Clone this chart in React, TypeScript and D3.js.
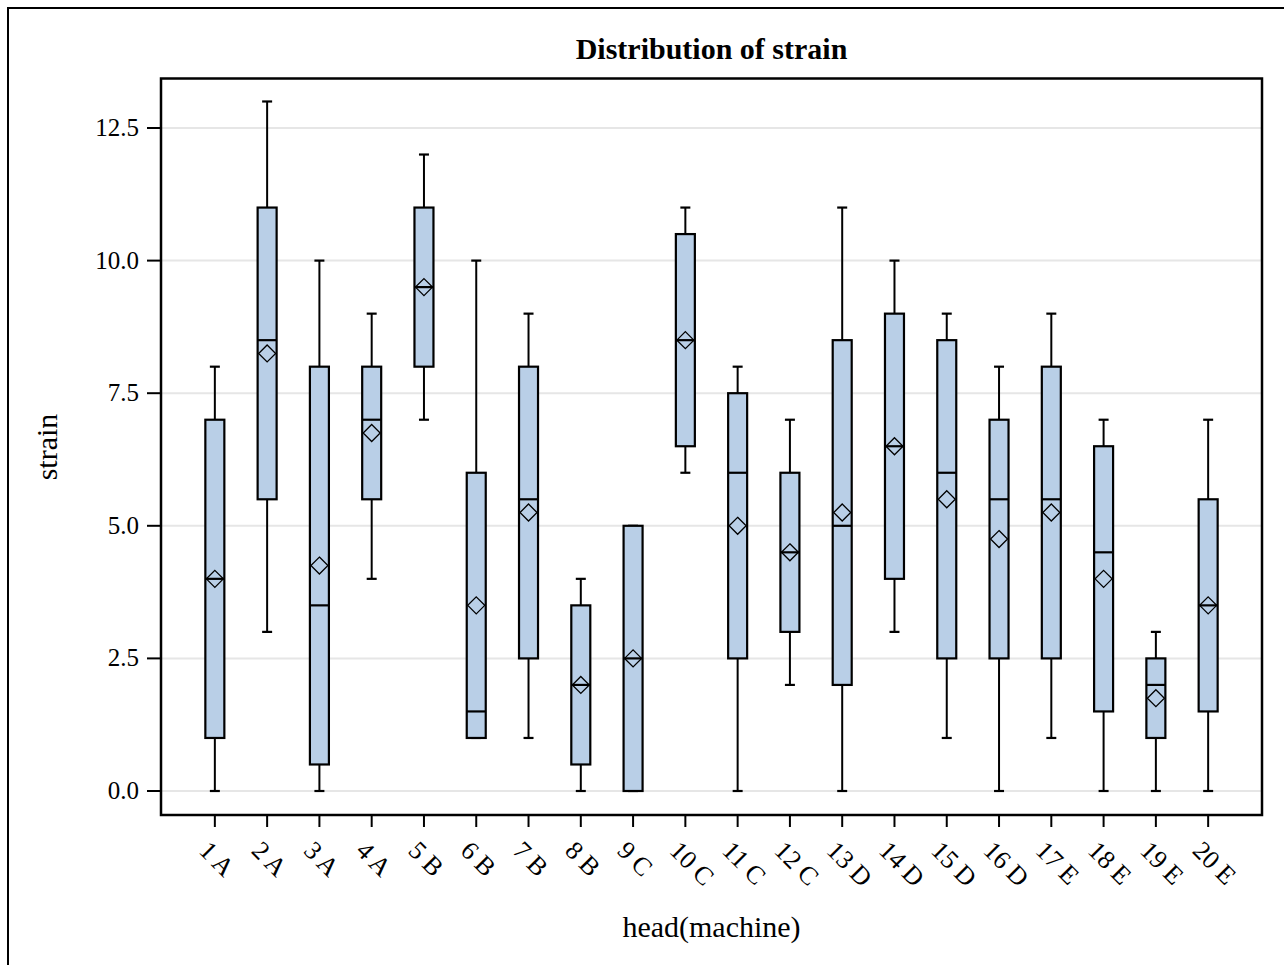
import { scaleLinear, scalePoint } from "d3";

const heads = [
  "1 A", "2 A", "3 A", "4 A", "5 B", "6 B", "7 B", "8 B", "9 C", "10 C",
  "11 C", "12 C", "13 D", "14 D", "15 D", "16 D", "17 E", "18 E", "19 E", "20 E",
];
const whiskerLow = [0, 3, 0, 4, 7, 1, 1, 0, 0, 6, 0, 2, 0, 3, 1, 0, 1, 0, 0, 0];
const q1 = [1, 5.5, 0.5, 5.5, 8, 1, 2.5, 0.5, 0, 6.5, 2.5, 3, 2, 4, 2.5, 2.5, 2.5, 1.5, 1, 1.5];
const median = [4, 8.5, 3.5, 7, 9.5, 1.5, 5.5, 2, 2.5, 8.5, 6, 4.5, 5, 6.5, 6, 5.5, 5.5, 4.5, 2, 3.5];
const q3 = [7, 11, 8, 8, 11, 6, 8, 3.5, 5, 10.5, 7.5, 6, 8.5, 9, 8.5, 7, 8, 6.5, 2.5, 5.5];
const whiskerHigh = [8, 13, 10, 9, 12, 10, 9, 4, 5, 11, 8, 7, 11, 10, 9, 8, 9, 7, 3, 7];
const means = [4, 8.25, 4.25, 6.75, 9.5, 3.5, 5.25, 2, 2.5, 8.5, 5, 4.5, 5.25, 6.5, 5.5, 4.75, 5.25, 4, 1.75, 3.5];
const yTickValues = [0, 2.5, 5, 7.5, 10, 12.5];

const W = 1284;
const H = 965;
const plot = { left: 161, right: 1262, top: 78.5, bottom: 815 };
const FONT = "'Liberation Serif', 'Times New Roman', serif";
const BOX_FILL = "#b9cfe7";

export default function App() {
  const x = scalePoint<string>().domain(heads).range([plot.left, plot.right]).padding(1.03);
  const y = scaleLinear().domain([0, 12.5]).range([791, 128]);

  const boxW = 19;
  const capW = 10;
  const dm = 8.5;

  const boxes = heads.map((h, i) => ({
    h,
    cx: x(h) ?? 0,
    lo: y(whiskerLow[i]),
    q1: y(q1[i]),
    med: y(median[i]),
    q3: y(q3[i]),
    hi: y(whiskerHigh[i]),
    mean: y(means[i]),
  }));

  return (
    <svg
      width={W}
      height={H}
      style={{ position: "absolute", left: 0, top: 0, background: "#fff" }}
      fontFamily={FONT}
    >
      <rect x={8} y={8} width={1400} height={1100} fill="#fff" stroke="#000" strokeWidth={2} />

      <text x={(plot.left + plot.right) / 2} y={59} textAnchor="middle" fontWeight="bold" fontSize={30}>
        Distribution of strain
      </text>

      {/* grid */}
      {yTickValues.map((t) => (
        <line key={`g-${t}`} x1={plot.left} x2={plot.right} y1={y(t)} y2={y(t)} stroke="#e6e6e6" strokeWidth={2} />
      ))}

      {/* boxes */}
      {boxes.map((b) => (
        <g key={b.h} stroke="#000">
          <line x1={b.cx} x2={b.cx} y1={b.hi} y2={b.q3} strokeWidth={2} />
          <line x1={b.cx} x2={b.cx} y1={b.q1} y2={b.lo} strokeWidth={2} />
          <line x1={b.cx - capW / 2} x2={b.cx + capW / 2} y1={b.hi} y2={b.hi} strokeWidth={2.2} />
          <line x1={b.cx - capW / 2} x2={b.cx + capW / 2} y1={b.lo} y2={b.lo} strokeWidth={2.2} />
          <rect x={b.cx - boxW / 2} y={b.q3} width={boxW} height={b.q1 - b.q3} fill={BOX_FILL} strokeWidth={2.2} />
          <line x1={b.cx - boxW / 2} x2={b.cx + boxW / 2} y1={b.med} y2={b.med} strokeWidth={2.2} />
          <path
            d={`M${b.cx},${b.mean - dm}L${b.cx + dm},${b.mean}L${b.cx},${b.mean + dm}L${b.cx - dm},${b.mean}Z`}
            fill="none"
            strokeWidth={1.3}
          />
        </g>
      ))}

      {/* frame */}
      <rect
        x={plot.left}
        y={plot.top}
        width={plot.right - plot.left}
        height={plot.bottom - plot.top}
        fill="none"
        stroke="#000"
        strokeWidth={2.5}
      />

      {/* y axis */}
      {yTickValues.map((t) => (
        <g key={`y-${t}`} transform={`translate(${plot.left},${y(t)})`}>
          <line x1={-14} x2={0} stroke="#000" strokeWidth={2} />
          <text x={-22} dy={8} textAnchor="end" fontSize={25}>
            {t.toFixed(1)}
          </text>
        </g>
      ))}
      <text transform={`translate(57,447) rotate(-90)`} textAnchor="middle" fontSize={30}>
        strain
      </text>

      {/* x axis */}
      {boxes.map((b) => (
        <g key={`x-${b.h}`}>
          <line x1={b.cx} x2={b.cx} y1={plot.bottom} y2={plot.bottom + 12} stroke="#000" strokeWidth={2} />
          <text transform={`translate(${b.cx - 17},${plot.bottom + 37}) rotate(45)`} fontSize={26}>
            {b.h}
          </text>
        </g>
      ))}
      <text x={(plot.left + plot.right) / 2} y={937} textAnchor="middle" fontSize={30}>
        head(machine)
      </text>
    </svg>
  );
}
